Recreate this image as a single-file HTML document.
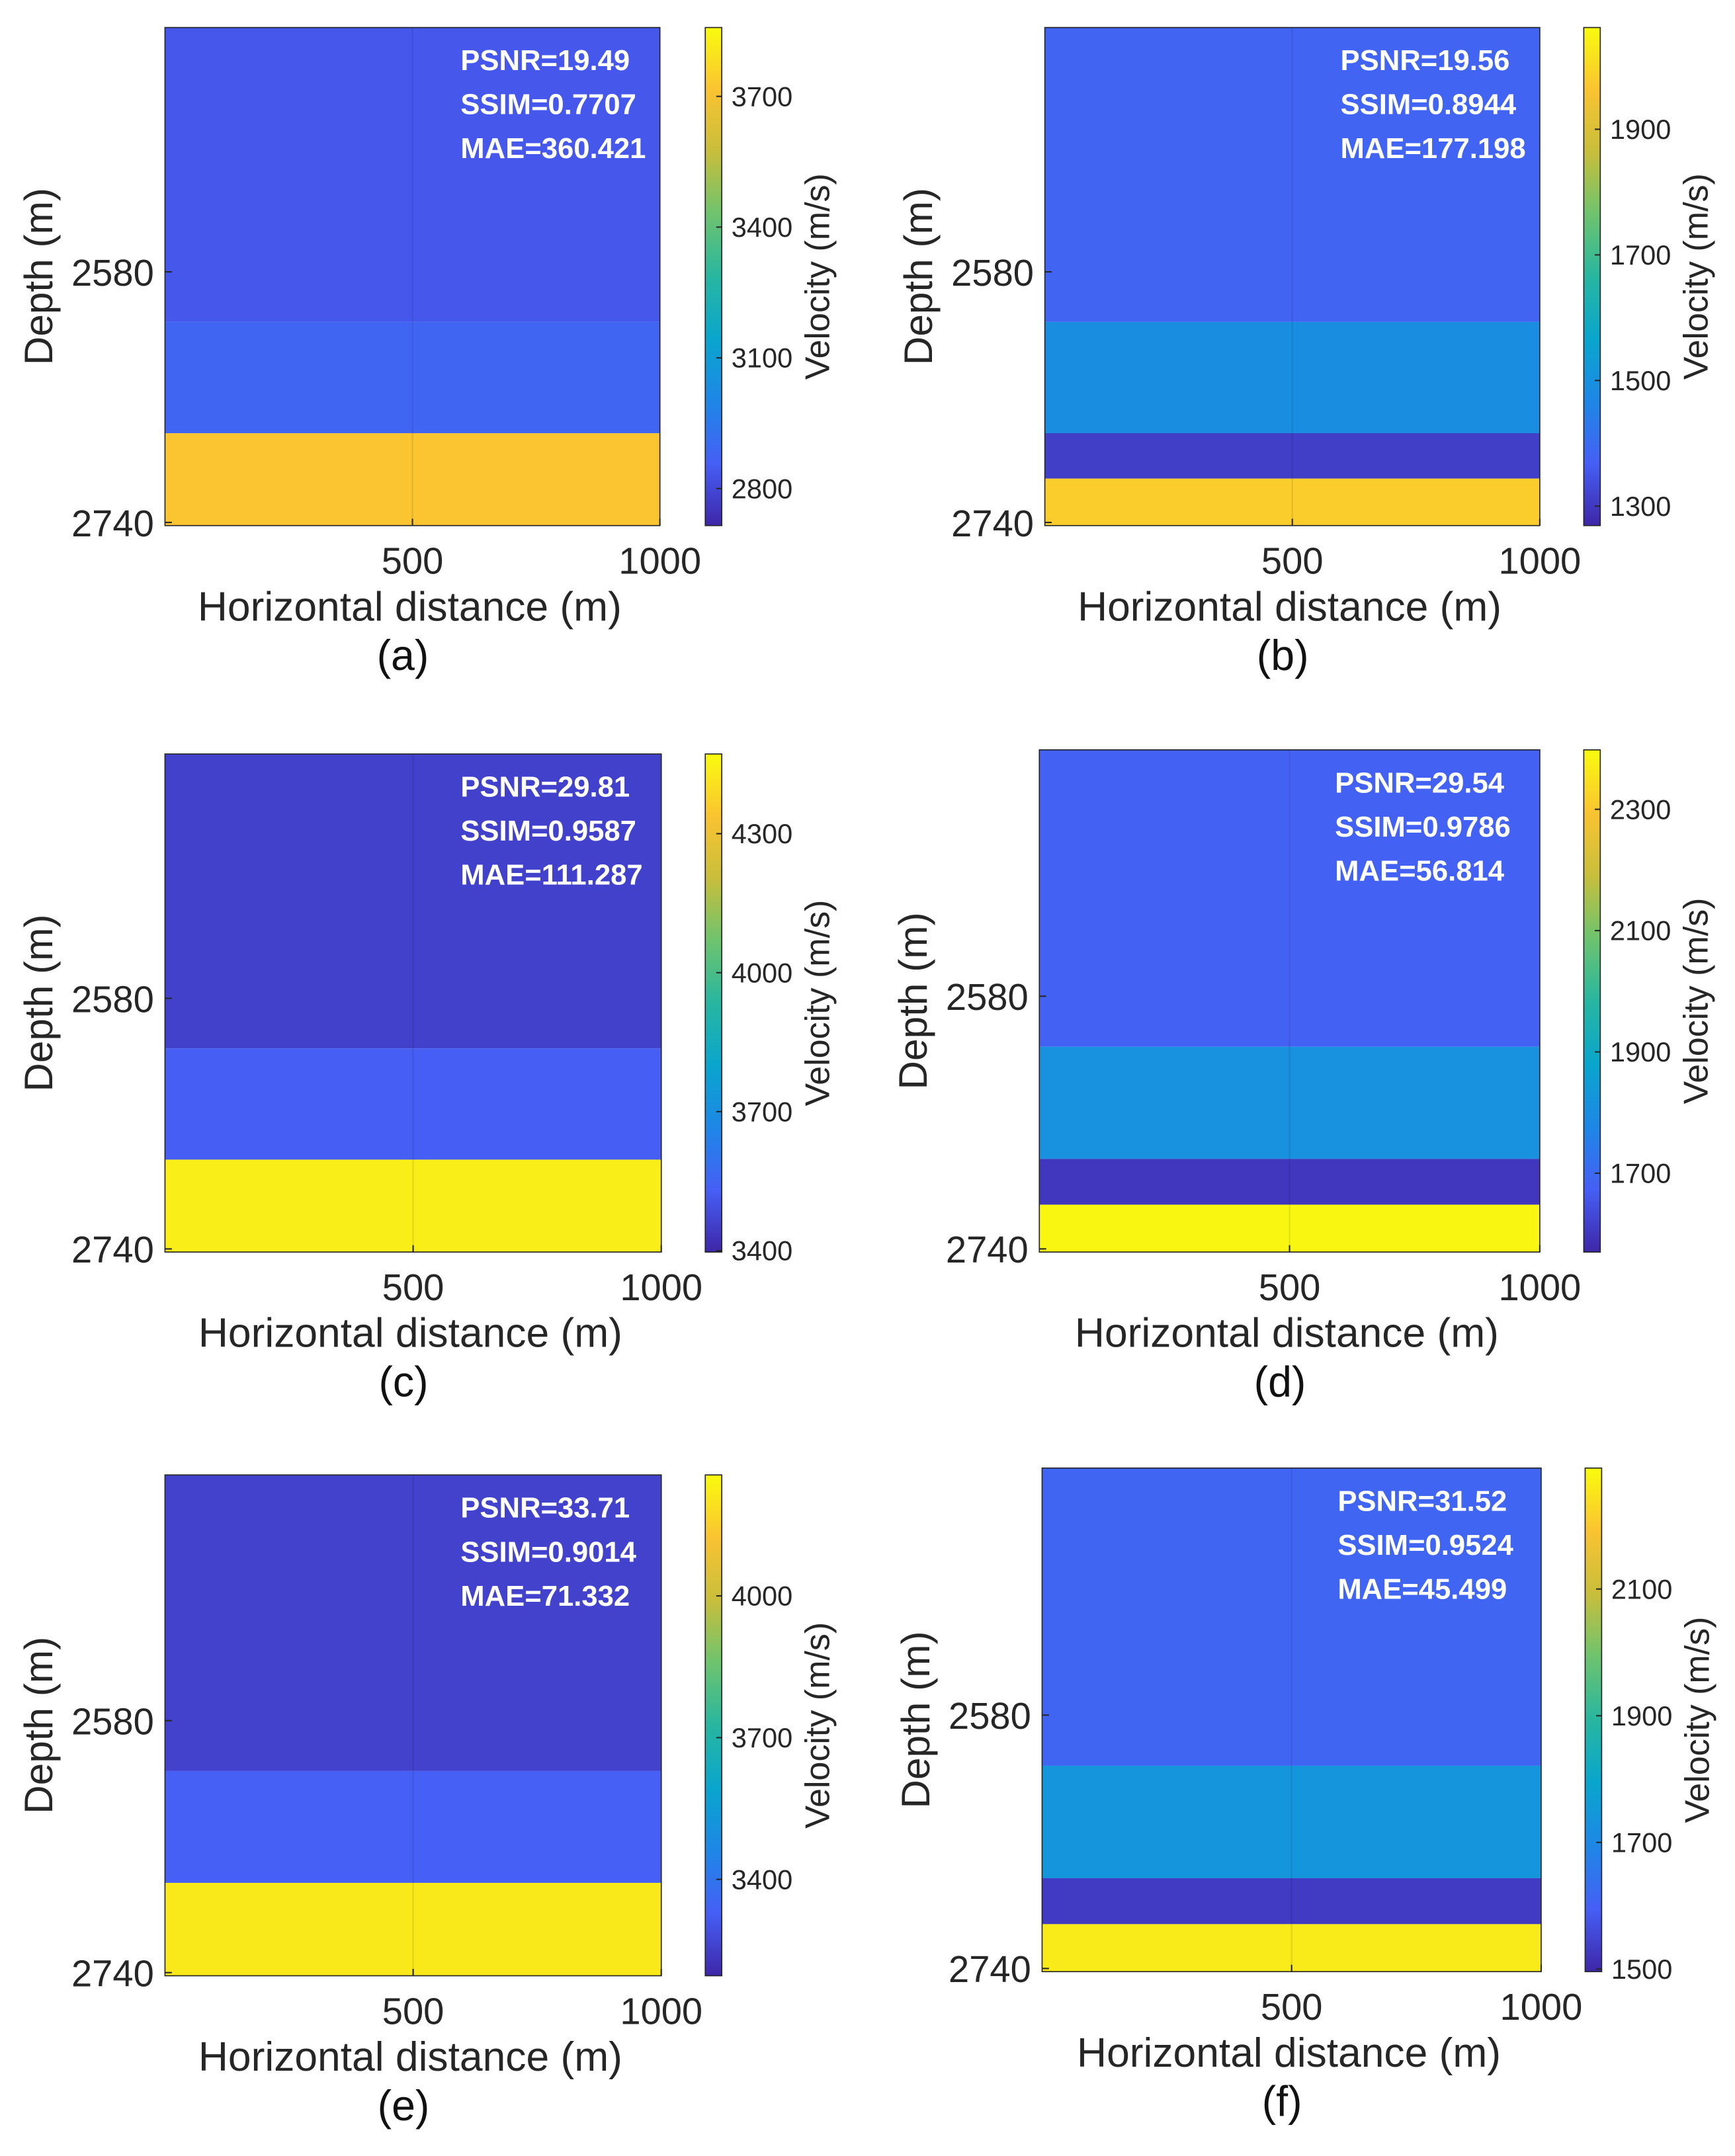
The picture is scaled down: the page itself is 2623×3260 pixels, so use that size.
<!DOCTYPE html>
<html><head><meta charset="utf-8"><style>
html,body{margin:0;padding:0;background:#fff;}
svg{display:block;}
text{font-family:"Liberation Sans",Arial,sans-serif;}
</style></head><body>
<svg id="fig" width="2623" height="3260" viewBox="0 0 1262 1567" preserveAspectRatio="none" xmlns="http://www.w3.org/2000/svg"></svg>
<script>
// Panel data (depth boundaries in m, layer velocities in m/s)
const panelLabels = ["(a)","(b)","(c)","(d)","(e)","(f)"];
const psnr = ["19.49","19.56","29.81","29.54","33.71","31.52"];
const ssim = ["0.7707","0.8944","0.9587","0.9786","0.9014","0.9524"];
const mae = ["360.421","177.198","111.287","56.814","71.332","45.499"];
const layerTopsA = [2424, 2612, 2683];
const layerVelA = [2840, 2880, 3720];
const layerTopsB = [2424, 2612, 2683, 2712];
const layerVelB = [1380, 1490, 1310, 1980];
const layerTopsC = [2424, 2612, 2683];
const layerVelC = [3460, 3530, 4440];
const layerTopsD = [2424, 2612, 2683, 2712];
const layerVelD = [1680, 1810, 1600, 2390];
const layerTopsE = [2424, 2612, 2683];
const layerVelE = [3260, 3330, 4210];
const layerTopsF = [2424, 2612, 2683, 2712];
const layerVelF = [1610, 1740, 1530, 2260];
const cbarMin = [2715, 1269, 3397, 1570, 3196, 1496];
const cbarMax = [3858, 2062, 4472, 2398, 4256, 2291];
const cbarTicksA = [2800, 3100, 3400, 3700];
const cbarTicksB = [1300, 1500, 1700, 1900];
const cbarTicksC = [3400, 3700, 4000, 4300];
const cbarTicksD = [1700, 1900, 2100, 2300];
const cbarTicksE = [3400, 3700, 4000];
const cbarTicksF = [1500, 1700, 1900, 2100];
const depthTicks = [2580, 2740];
const xTicks = [500, 1000];
const depthDomain = [2424, 2742];
const xDomain = [0, 1000];

const tops=[layerTopsA,layerTopsB,layerTopsC,layerTopsD,layerTopsE,layerTopsF];
const vels=[layerVelA,layerVelB,layerVelC,layerVelD,layerVelE,layerVelF];
const cticks=[cbarTicksA,cbarTicksB,cbarTicksC,cbarTicksD,cbarTicksE,cbarTicksF];
const boxes=[[120,480,20,382,513],[760,1120,20,382,1152],[120,481,548,910,513],[756,1120,545,910,1152],[120,481,1072,1436,513],[758,1121,1067,1433,1153]];

const P=[[62,38,168],[70,95,245],[30,135,230],[10,165,205],[40,182,160],[110,195,110],[200,190,60],[250,195,50],[249,251,14]];
function parula(t){t=Math.max(0,Math.min(1,t));const f=t*8,i=Math.min(7,Math.floor(f)),r=f-i;
 const c=P[i].map((v,k)=>Math.round(v+(P[i+1][k]-v)*r));return `rgb(${c[0]},${c[1]},${c[2]})`;}
const NS="http://www.w3.org/2000/svg",svg=document.getElementById('fig');
function el(tag,attrs,parent,txt){const e=document.createElementNS(NS,tag);for(const k in attrs)e.setAttribute(k,attrs[k]);if(txt!==undefined)e.textContent=txt;(parent||svg).appendChild(e);return e;}
const defs=el('defs',{});
const lg=el('linearGradient',{id:'parula',x1:0,y1:1,x2:0,y2:0},defs);
for(let i=0;i<=16;i++)el('stop',{offset:i/16,'stop-color':parula(i/16)},lg);

boxes.forEach((b,p)=>{
 const [x0,x1,y0,y1,cb]=b;
 const g=el('g',{});
 
 
 const ys=d=>y0+(d-depthDomain[0])/(depthDomain[1]-depthDomain[0])*(y1-y0);
 const xs=v=>x0+(v-xDomain[0])/(xDomain[1]-xDomain[0])*(x1-x0);
 const vmin=cbarMin[p],vmax=cbarMax[p];
 const T=tops[p],V=vels[p];
 T.forEach((t,i)=>{
  const yb=i+1<T.length?ys(T[i+1]):y1;
  const r=el('rect',{x:x0,y:ys(t),width:x1-x0,height:yb-ys(t),fill:parula((V[i]-vmin)/(vmax-vmin))},g);
  
  
 });
 const seam=el('line',{x1:xs(500),x2:xs(500),y1:y0,y2:y1,stroke:'rgba(0,0,0,0.08)','stroke-width':1.2},g);
 
 
 const fr=el('rect',{x:x0,y:y0,width:x1-x0,height:y1-y0,fill:'none',stroke:'#262626','stroke-width':0.8},g);
 
 
 const L=[ 'PSNR='+psnr[p],'SSIM='+ssim[p],'MAE='+mae[p]];
 L.forEach((s,i)=>{const t=el('text',{x:x0+215,y:y0+31+i*32,fill:'#fff','font-size':21,'font-weight':'bold'},g,s);
  
  });
 depthTicks.forEach(d=>{const t=el('text',{x:x0-8,y:ys(d)+10,'text-anchor':'end','font-size':27,fill:'#262626'},g,d);
  
  
  el('line',{x1:x0,x2:x0+5,y1:ys(d),y2:ys(d),stroke:'#262626'},g);});
 xTicks.forEach(v=>{const t=el('text',{x:xs(v),y:y1+35,'text-anchor':'middle','font-size':27,fill:'#262626'},g,v);
  
  
  el('line',{x1:xs(v),x2:xs(v),y1:y1,y2:y1-5,stroke:'#262626'},g);});
 const xt=el('text',{x:(x0+x1)/2-2,y:y1+69,'text-anchor':'middle','font-size':30,fill:'#262626'},g,'Horizontal distance (m)');
 
 
 const ycx=x0-82,ycy=(y0+y1)/2;
 const yt=el('text',{x:ycx,y:ycy,'text-anchor':'middle','font-size':29,fill:'#262626',transform:`rotate(-90 ${ycx} ${ycy})`},g,'Depth (m)');
 
 
 const cap=el('text',{x:(x0+x1)/2-7,y:y1+105,'text-anchor':'middle','font-size':31,fill:'#111'},g,panelLabels[p]);
 
 
 const cbr=el('rect',{x:cb,y:y0,width:12,height:y1-y0,fill:'url(#parula)',stroke:'#262626','stroke-width':0.8},g);
 
 
 const cy=v=>y1-(v-vmin)/(vmax-vmin)*(y1-y0);
 cticks[p].forEach(v=>{const t=el('text',{x:cb+19,y:cy(v)+7,'font-size':20,fill:'#262626'},g,v);
  
  
  el('line',{x1:cb+12,x2:cb+8,y1:cy(v),y2:cy(v),stroke:'#262626'},g);});
 const vx=cb+90,vy=(y0+y1)/2;
 const vt=el('text',{x:vx,y:vy,'text-anchor':'middle','font-size':25,fill:'#262626',transform:`rotate(-90 ${vx} ${vy})`},g,'Velocity (m/s)');
 
 
});
</script>
</body></html>
